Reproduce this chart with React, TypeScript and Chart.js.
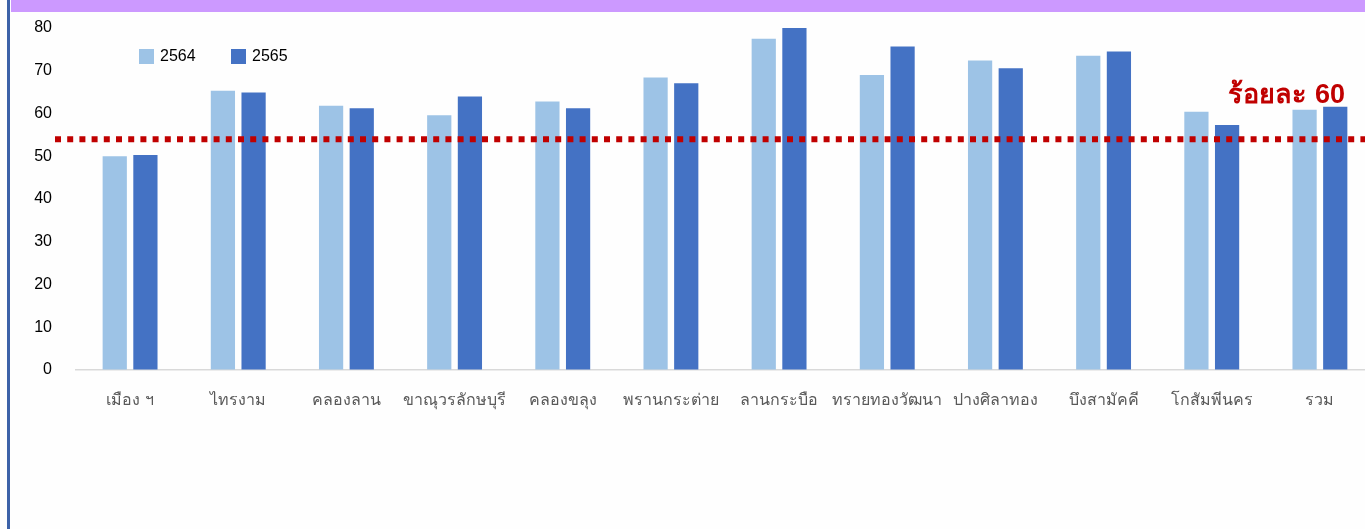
import React, { useEffect, useRef } from 'react';
import { Chart, registerables } from 'chart.js';

Chart.register(...registerables);

// Districts (last entry is the overall total)
const categories = [
  'เมือง ฯ',
  'ไทรงาม',
  'คลองลาน',
  'ขาณุวรลักษบุรี',
  'คลองขลุง',
  'พรานกระต่าย',
  'ลานกระบือ',
  'ทรายทองวัฒนา',
  'ปางศิลาทอง',
  'บึงสามัคคี',
  'โกสัมพีนคร',
  'รวม',
];

const seriesLabels = ['2564', '2565'];
const values2564 = [50.0, 65.3, 61.8, 59.6, 62.8, 68.4, 77.5, 69.0, 72.4, 73.5, 60.4, 60.9];
const values2565 = [50.3, 64.9, 61.2, 64.0, 61.2, 67.1, 80.2, 75.7, 70.6, 74.5, 57.3, 61.6];
const seriesColors = ['#9dc3e6', '#4472c4'];

const yTicks = [0, 10, 20, 30, 40, 50, 60, 70, 80];

// Reference line and its caption
const targetValue = 54;
const targetLabel = 'ร้อยละ 60';

const FONT = "Tahoma, 'Liberation Sans', 'Noto Sans', sans-serif";

const targetLinePlugin = {
  id: 'targetLine',
  afterDatasetsDraw(chart: any) {
    const { ctx } = chart;
    const y = chart.scales.y.getPixelForValue(targetValue);
    ctx.save();
    ctx.strokeStyle = '#c00000';
    ctx.lineWidth = 6;
    ctx.setLineDash([6, 6.2]);
    ctx.beginPath();
    ctx.moveTo(55, y);
    ctx.lineTo(chart.width, y);
    ctx.stroke();
    ctx.setLineDash([]);
    ctx.fillStyle = '#c00000';
    ctx.font = `bold 27px ${FONT}`;
    ctx.textAlign = 'right';
    ctx.textBaseline = 'alphabetic';
    ctx.fillText(targetLabel, 1345, y - 36);
    ctx.restore();
  },
};

const cornerLegendPlugin = {
  id: 'cornerLegend',
  afterDraw(chart: any) {
    const { ctx } = chart;
    ctx.save();
    ctx.font = `16px ${FONT}`;
    ctx.textAlign = 'left';
    ctx.textBaseline = 'middle';
    chart.data.datasets.forEach((ds: any, i: number) => {
      const x = 139 + i * 92;
      const y = 49;
      ctx.fillStyle = ds.backgroundColor;
      ctx.fillRect(x, y, 15, 15);
      ctx.fillStyle = '#000000';
      ctx.fillText(ds.label, x + 21, y + 8);
    });
    ctx.restore();
  },
};

function BarChart() {
  const canvasRef = useRef<HTMLCanvasElement | null>(null);

  useEffect(() => {
    if (!canvasRef.current) return;
    const chart = new Chart(canvasRef.current, {
      type: 'bar',
      data: {
        labels: categories,
        datasets: [
          {
            label: seriesLabels[0],
            data: values2564,
            backgroundColor: seriesColors[0],
            borderWidth: 0,
            categoryPercentage: 0.567,
            barPercentage: 0.79,
          },
          {
            label: seriesLabels[1],
            data: values2565,
            backgroundColor: seriesColors[1],
            borderWidth: 0,
            categoryPercentage: 0.567,
            barPercentage: 0.79,
          },
        ],
      },
      options: {
        animation: false,
        responsive: false,
        devicePixelRatio: 1,
        layout: { padding: { top: 28, left: 0, right: 0, bottom: 0 } },
        plugins: {
          legend: { display: false },
          tooltip: { enabled: false },
        },
        scales: {
          x: {
            grid: { display: false, drawTicks: false },
            border: { display: true, color: '#d9d9d9', width: 1.5 },
            ticks: {
              color: '#595959',
              font: { family: FONT, size: 16 },
              padding: 21,
              maxRotation: 0,
              autoSkip: false,
            },
            afterFit(scale: any) {
              scale.height = 159;
            },
          },
          y: {
            min: 0,
            max: 80,
            afterBuildTicks(scale: any) {
              scale.ticks = yTicks.map((v) => ({ value: v }));
            },
            // invisible tick marks keep the labels clear of the plot
            grid: {
              display: true,
              drawOnChartArea: false,
              drawTicks: true,
              tickLength: 24,
              color: 'transparent',
              tickColor: 'transparent',
            },
            border: { display: false },
            ticks: {
              color: '#000000',
              font: { family: FONT, size: 16 },
              padding: 0,
            },
            afterFit(scale: any) {
              scale.width = 76;
            },
          },
        },
      },
      plugins: [targetLinePlugin, cornerLegendPlugin],
    });
    return () => chart.destroy();
  }, []);

  return (
    <canvas
      ref={canvasRef}
      width={1374}
      height={529}
      style={{ position: 'absolute', left: 0, top: 0, width: 1374, height: 529 }}
    />
  );
}

export default function App() {
  return (
    <div
      style={{
        position: 'absolute',
        left: 0,
        top: 0,
        width: 1365,
        height: 529,
        overflow: 'hidden',
        background: '#fefefe',
      }}
    >
      <div style={{ position: 'absolute', left: 7, top: 0, width: 3, height: 529, background: '#3c62a8' }} />
      <div style={{ position: 'absolute', left: 11, top: 0, right: 0, height: 12, background: '#cc99ff' }} />
      <BarChart />
    </div>
  );
}
